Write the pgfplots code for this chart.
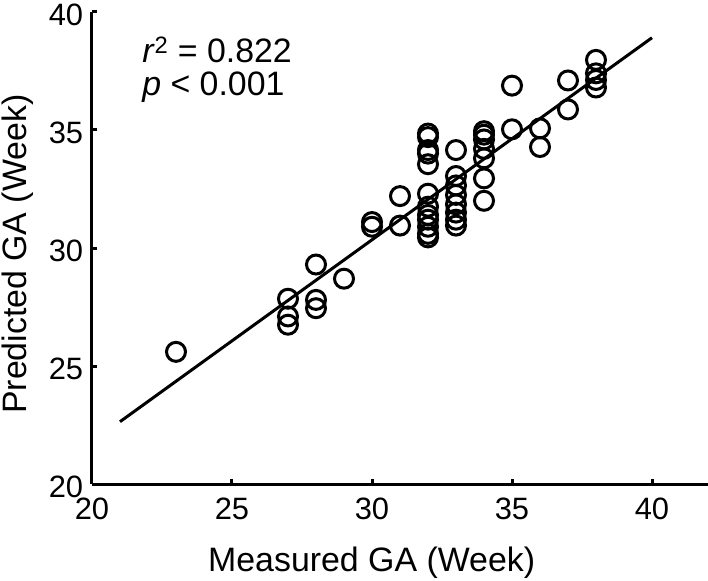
\documentclass[border=0pt]{standalone}
\usepackage{fontspec}
\setmainfont{Liberation Sans}
\usepackage{pgfplots}
\pgfplotsset{compat=1.18}
\begin{document}
\fontsize{32}{38}\selectfont
\begin{tikzpicture}
\begin{axis}[
  scale only axis,
  width=616bp, height=472bp,
  xmin=20, xmax=42, ymin=20, ymax=40,
  axis x line*=bottom, axis y line*=left,
  axis line style={-, line width=3bp},
  xtick={20,25,...,40}, ytick={20,25,...,40},
  tick align=inside,
  major tick length=5bp,
  tick style={line width=3bp, black},
  /pgf/number format/assume math mode=true,
  ticklabel style={font=\fontsize{31}{37}\selectfont},
  xticklabel style={yshift=-3bp},
  yticklabel style={xshift=2bp, yshift=-2.5bp},
  label style={font=\fontsize{34}{40}\selectfont},
  xlabel={Measured GA (Week)},
  ylabel={Predicted GA (Week)},
  xlabel style={at={(axis description cs:0.454,-0.167)}, anchor=center},
  ylabel style={at={(axis description cs:-0.121,0.487)}, anchor=center},
  clip=false,
]
\addplot[only marks, mark=o, mark size=9.5bp, line width=3bp, black] coordinates {
(23,25.6)
(27,27.85)(27,27.1)(27,26.75)
(28,29.3)(28,27.8)(28,27.45)
(29,28.7)
(30,31.1)(30,30.9)
(31,32.2)(31,30.95)
(32,34.85)(32,34.7)(32,34.15)(32,34.0)(32,33.55)(32,32.3)(32,31.75)(32,31.4)(32,31.2)(32,30.9)(32,30.6)(32,30.45)
(33,34.15)(33,33.05)(33,32.65)(33,32.25)(33,31.85)(33,31.5)(33,31.2)(33,30.95)
(34,34.95)(34,34.8)(34,34.6)(34,34.2)(34,33.8)(34,32.95)(34,32.0)
(35,36.88)(35,35.03)
(36,35.07)(36,34.28)
(37,37.1)(37,35.87)
(38,37.97)(38,37.4)(38,37.12)(38,36.8)
};
\addplot[no marks, line width=3bp, black] coordinates {(21,22.64) (40,38.91)};
\node[anchor=base west, inner sep=0pt, font=\fontsize{34}{40}\selectfont] at (axis cs:21.79,37.84) {\textit{r}\textsuperscript{2} = 0.822};
\node[anchor=base west, inner sep=0pt, font=\fontsize{34}{40}\selectfont] at (axis cs:21.79,36.48) {\textit{p} < 0.001};
\end{axis}
\pgfresetboundingbox
\path[use as bounding box] (-92bp,-97bp) rectangle (616bp,484bp);
\end{tikzpicture}
\end{document}
